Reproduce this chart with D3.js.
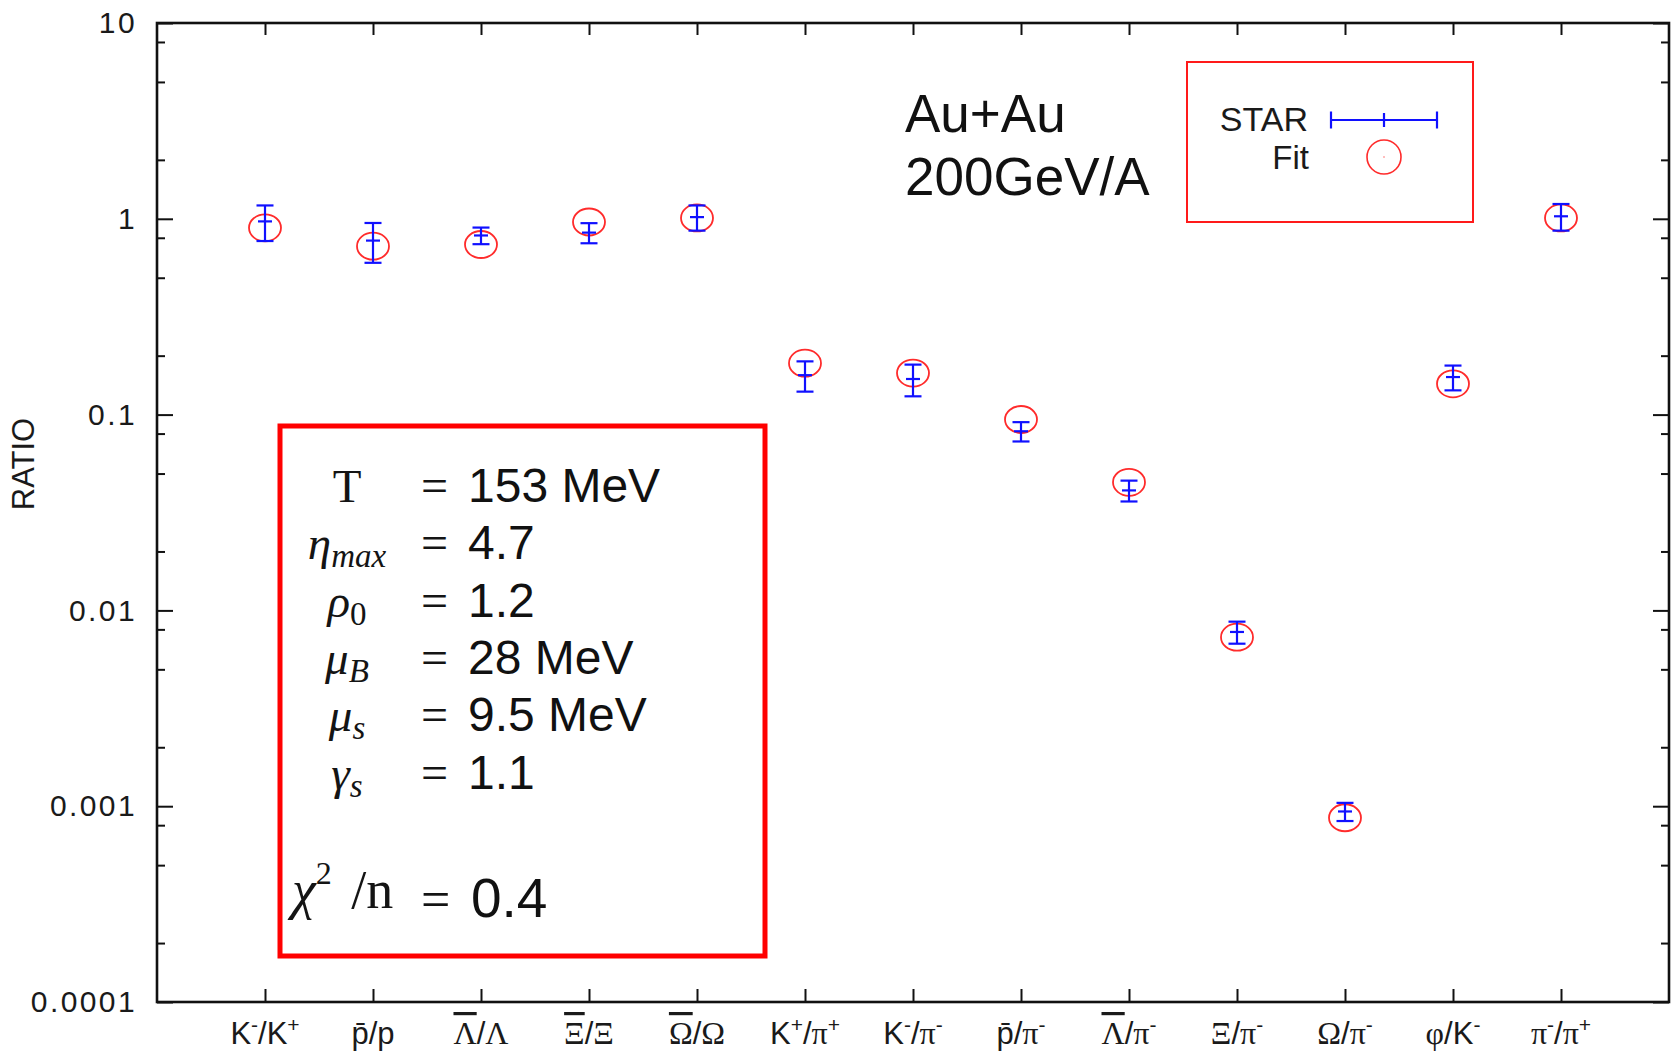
<!DOCTYPE html>
<html>
<head>
<meta charset="utf-8">
<script src="https://cdn.jsdelivr.net/npm/d3@7"></script>
<style>
body{margin:0;background:#fff;}
.axis line{stroke:#111;stroke-width:2;}
.axis text{font-family:"Liberation Sans",Arial,sans-serif;fill:#1a1a1a;}
</style>
</head>
<body>
<div id="chart"></div>
<script>
// ratio categories (^x = superscript, \u0304 = bar)
const categories = ["K^-/K^+", "p\u0304/p", "\u039B\u0304/\u039B", "\u039E\u0304/\u039E", "\u03A9\u0304/\u03A9",
    "K^+/\u03C0^+", "K^-/\u03C0^-", "p\u0304/\u03C0^-", "\u039B\u0304/\u03C0^-", "\u039E/\u03C0^-",
    "\u03A9/\u03C0^-", "\u03C6/K^-", "\u03C0^-/\u03C0^+"];
// STAR data and errors
const starVal = [0.97, 0.774, 0.822, 0.85, 1.02, 0.159, 0.152, 0.0822, 0.041, 0.00776, 0.00094, 0.1555, 1.03];
const starErr = [0.2, 0.178, 0.08, 0.1, 0.15, 0.028, 0.028, 0.0093, 0.005, 0.001, 0.0001, 0.0225, 0.16];
// thermal fit
const fitVal = [0.899, 0.725, 0.739, 0.963, 1.01, 0.183, 0.163, 0.0944, 0.0451, 0.0073, 0.000873, 0.1436, 1.01];

const yTicks = [0.0001, 0.001, 0.01, 0.1, 1, 10];
const yTickLabels = ["0.0001", "0.001", "0.01", "0.1", "1", "10"];

// fit parameters
const paramSymbols = ["T", "\u03B7", "\u03C1", "\u03BC", "\u03BC", "\u03B3"];
const paramSubs = ["", "max", "0", "B", "s", "s"];
const paramValues = ["153 MeV", "4.7", "1.2", "28 MeV", "9.5 MeV", "1.1"];
const chiValue = "0.4";

class RatioPlot {
    constructor() {
        this.margin = { top: 23, right: 9, bottom: 53, left: 157 };
        this.width = 1678 - this.margin.left - this.margin.right;
        this.height = 1055 - this.margin.top - this.margin.bottom;
        this.sans = '"Liberation Sans", Arial, sans-serif';
        this.serif = '"Liberation Serif", "DejaVu Serif", serif';
    }

    drawPlot() {
        let svg = d3.select('#chart')
            .append('svg')
            .attr('width', 1678)
            .attr('height', 1055);
        this.svg = svg;

        let g = svg.append('g')
            .attr('transform', 'translate(' + this.margin.left + ',' + this.margin.top + ')');

        let x = d3.scalePoint().domain(categories).range([0, this.width]).padding(1);
        let y = d3.scaleLog().domain([1e-4, 10]).range([this.height, 0]);

        let minor = [];
        for (let k = -4; k < 1; k++) {
            [2, 5, 8].forEach(m => minor.push(m * Math.pow(10, k)));
        }

        // left axis
        let left = g.append('g').attr('class', 'axis')
            .call(d3.axisLeft(y).tickValues(yTicks).tickFormat((d, i) => yTickLabels[i])
                .tickSize(-16).tickSizeOuter(0).tickPadding(20));
        left.selectAll('text').style('font-size', '30px').style('letter-spacing', '2.4px');
        g.append('g').attr('class', 'axis')
            .call(d3.axisLeft(y).tickValues(minor).tickFormat('').tickSize(-8).tickSizeOuter(0));

        // right axis
        g.append('g').attr('class', 'axis').attr('transform', 'translate(' + this.width + ',0)')
            .call(d3.axisRight(y).tickValues(yTicks).tickFormat('').tickSize(-16).tickSizeOuter(0));
        g.append('g').attr('class', 'axis').attr('transform', 'translate(' + this.width + ',0)')
            .call(d3.axisRight(y).tickValues(minor).tickFormat('').tickSize(-8).tickSizeOuter(0));

        // bottom + top
        g.append('g').attr('class', 'axis').attr('transform', 'translate(0,' + this.height + ')')
            .call(d3.axisBottom(x).tickFormat('').tickSize(-13).tickSizeOuter(0));
        g.append('g').attr('class', 'axis')
            .call(d3.axisTop(x).tickFormat('').tickSize(-12).tickSizeOuter(0));

        g.selectAll('.domain').remove();
        g.append('rect')
            .attr('width', this.width).attr('height', this.height)
            .attr('fill', 'none').attr('stroke', '#111').attr('stroke-width', 2.6);

        // x labels
        let self = this;
        g.append('g').selectAll('text')
            .data(categories)
            .enter().append('text')
            .attr('x', d => x(d))
            .attr('y', this.height + 42)
            .attr('text-anchor', 'middle')
            .style('font-family', this.sans)
            .style('font-size', '31px')
            .style('fill', '#1a1a1a')
            .each(function (d) { self.label(d3.select(this), d); });

        // y title
        svg.append('text')
            .attr('transform', 'translate(26,464) rotate(-90)')
            .attr('text-anchor', 'middle')
            .attr('dominant-baseline', 'middle')
            .style('font-family', this.sans)
            .style('font-size', '31px')
            .style('fill', '#1a1a1a')
            .text('RATIO');

        // fit circles
        g.append('g').selectAll('ellipse')
            .data(fitVal)
            .enter().append('ellipse')
            .attr('cx', (d, i) => x(categories[i]))
            .attr('cy', d => y(d))
            .attr('rx', 16).attr('ry', 13.5)
            .attr('fill', 'none').attr('stroke', '#ff2b2b').attr('stroke-width', 1.8);

        // STAR error bars
        let bars = g.append('g').selectAll('g')
            .data(starVal)
            .enter().append('g')
            .attr('stroke', '#1010ff').attr('stroke-width', 2.2);
        bars.append('line')
            .attr('x1', (d, i) => x(categories[i])).attr('x2', (d, i) => x(categories[i]))
            .attr('y1', (d, i) => y(d + starErr[i])).attr('y2', (d, i) => y(d - starErr[i]));
        bars.append('line')
            .attr('x1', (d, i) => x(categories[i]) - 8.5).attr('x2', (d, i) => x(categories[i]) + 8.5)
            .attr('y1', (d, i) => y(d + starErr[i])).attr('y2', (d, i) => y(d + starErr[i]));
        bars.append('line')
            .attr('x1', (d, i) => x(categories[i]) - 8.5).attr('x2', (d, i) => x(categories[i]) + 8.5)
            .attr('y1', (d, i) => y(d - starErr[i])).attr('y2', (d, i) => y(d - starErr[i]));
        bars.append('line')
            .attr('x1', (d, i) => x(categories[i]) - 7).attr('x2', (d, i) => x(categories[i]) + 7)
            .attr('y1', d => y(d)).attr('y2', d => y(d));

        this.drawLegend();
        this.drawParams();
    }

    label(sel, str) {
        let parts = str.match(/\^.|[\u0370-\u03FF]\u0304?|[^\^\u0370-\u03FF]+/g);
        let up = false;
        parts.forEach(p => {
            let t = sel.append('tspan');
            if (p[0] === '^') {
                t.text(p[1]).style('font-size', '21px').attr('dy', up ? 0 : -12);
                up = true;
            } else {
                if (up) { t.attr('dy', 12); up = false; }
                if (/[\u0370-\u03FF]/.test(p)) {
                    // greek in serif, bar drawn as overline
                    t.text(p[0]).style('font-family', this.serif).style('font-size', '32px');
                    if (p.length > 1) t.style('text-decoration', 'overline');
                } else {
                    t.text(p);
                }
            }
        });
    }

    drawLegend() {
        let svg = this.svg;
        svg.append('text').attr('x', 905).attr('y', 132)
            .style('font-family', this.sans).style('font-size', '53px').style('fill', '#111')
            .text('Au+Au');
        svg.append('text').attr('x', 905).attr('y', 195)
            .style('font-family', this.sans).style('font-size', '53px').style('fill', '#111')
            .text('200GeV/A');

        svg.append('rect')
            .attr('x', 1187).attr('y', 62).attr('width', 286).attr('height', 160)
            .attr('fill', 'none').attr('stroke', '#ff1a1a').attr('stroke-width', 2);
        svg.append('text').attr('x', 1308).attr('y', 131).attr('text-anchor', 'end')
            .style('font-family', this.sans).style('font-size', '34px').style('fill', '#1a1a1a')
            .text('STAR');
        svg.append('text').attr('x', 1309).attr('y', 169).attr('text-anchor', 'end')
            .style('font-family', this.sans).style('font-size', '33px').style('fill', '#1a1a1a')
            .text('Fit');

        let lg = svg.append('g').attr('stroke', '#1010ff').attr('stroke-width', 2.2);
        lg.append('line').attr('x1', 1331).attr('x2', 1437).attr('y1', 120).attr('y2', 120);
        lg.append('line').attr('x1', 1331).attr('x2', 1331).attr('y1', 111.5).attr('y2', 128.5);
        lg.append('line').attr('x1', 1437).attr('x2', 1437).attr('y1', 111.5).attr('y2', 128.5);
        lg.append('line').attr('x1', 1384).attr('x2', 1384).attr('y1', 113).attr('y2', 127);
        svg.append('circle').attr('cx', 1384).attr('cy', 157).attr('r', 17)
            .attr('fill', 'none').attr('stroke', '#ff2b2b').attr('stroke-width', 1.6);
        svg.append('circle').attr('cx', 1384).attr('cy', 157).attr('r', 0.8).attr('fill', '#ff6b6b');
    }

    drawParams() {
        let svg = this.svg;
        svg.append('rect')
            .attr('x', 280).attr('y', 426).attr('width', 485).attr('height', 530)
            .attr('fill', 'none').attr('stroke', '#ff0000').attr('stroke-width', 5);

        let rows = [502, 559, 617, 674, 731, 789];
        paramSymbols.forEach((s, i) => {
            let t = svg.append('text')
                .attr('x', 347).attr('y', rows[i])
                .attr('text-anchor', 'middle')
                .style('font-family', this.serif).style('font-size', '47px').style('fill', '#141414');
            t.append('tspan').text(s).style('font-style', i === 0 ? 'normal' : 'italic');
            if (paramSubs[i]) {
                t.append('tspan').text(paramSubs[i]).attr('dy', 8)
                    .style('font-size', '33px')
                    .style('font-style', paramSubs[i] === '0' ? 'normal' : 'italic');
            }
            svg.append('text').attr('x', 421).attr('y', rows[i])
                .style('font-family', this.serif).style('font-size', '48px').style('fill', '#141414')
                .text('=');
            svg.append('text').attr('x', 468).attr('y', rows[i])
                .style('font-family', this.sans).style('font-size', '48px').style('fill', '#111')
                .text(paramValues[i]);
        });

        let chi = svg.append('text').attr('x', 292).attr('y', 908)
            .style('font-family', this.serif).style('font-size', '54px').style('fill', '#141414');
        chi.append('tspan').text('\u03C7').style('font-style', 'italic');
        chi.append('tspan').text('2').attr('dy', -24).style('font-size', '32px');
        chi.append('tspan').text(' /n').attr('dy', 24).attr('dx', 6);
        svg.append('text').attr('x', 421).attr('y', 917)
            .style('font-family', this.serif).style('font-size', '52px').style('fill', '#141414')
            .text('=');
        svg.append('text').attr('x', 471).attr('y', 917)
            .style('font-family', this.sans).style('font-size', '55px').style('fill', '#111')
            .text(chiValue);
    }
}

let plot = new RatioPlot();
plot.drawPlot();
</script>
</body>
</html>
